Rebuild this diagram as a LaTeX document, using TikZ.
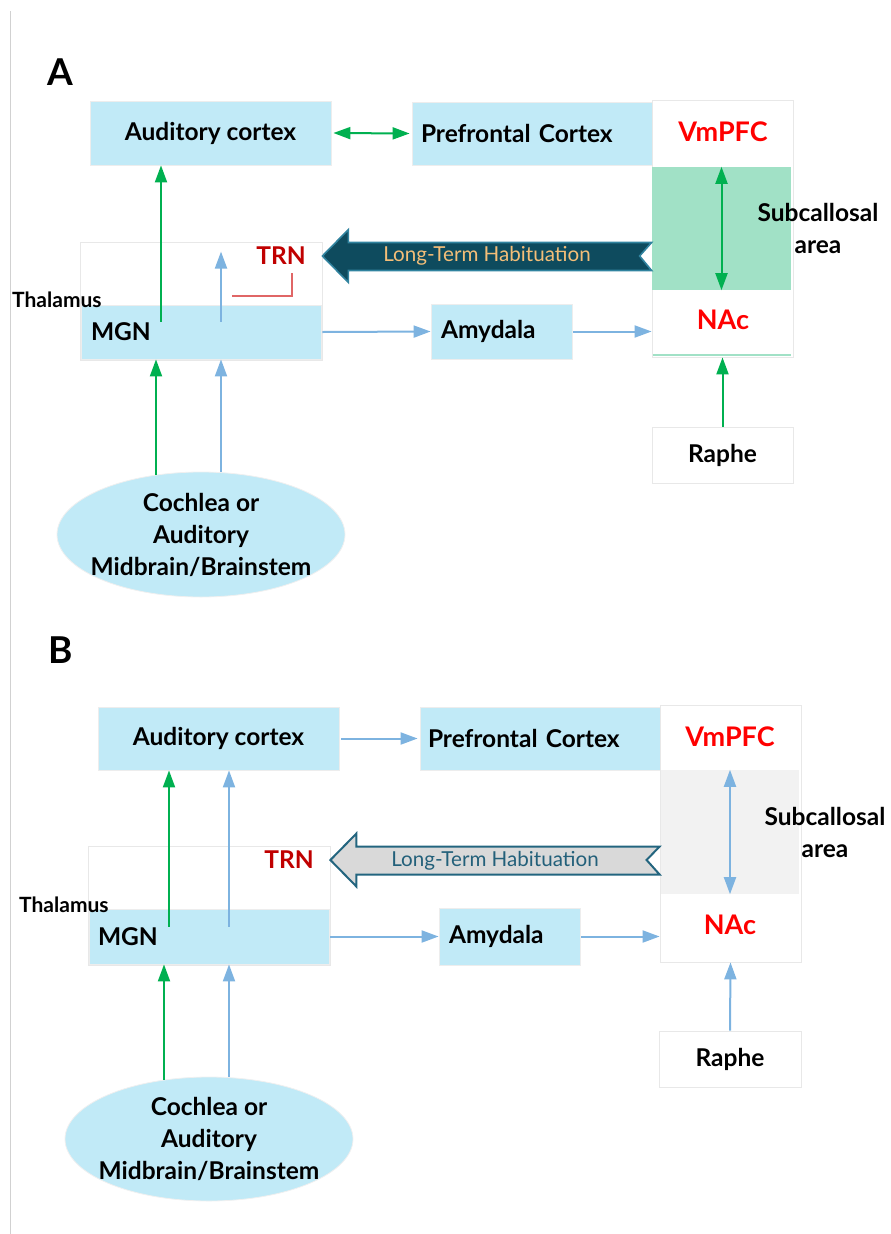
\documentclass[tikz,border=0pt]{standalone}
\usepackage{fontspec}
\setmainfont{Lato}
\usetikzlibrary{arrows.meta,positioning,calc,shapes.geometric}
\definecolor{boxblue}{HTML}{C1EAF7}
\definecolor{subgreen}{HTML}{A1E1C6}
\definecolor{subgray}{HTML}{F2F2F2}
\definecolor{arrgreen}{HTML}{00B050}
\definecolor{arrblue}{HTML}{7DB3E0}
\definecolor{vmred}{HTML}{FF0000}
\definecolor{trnred}{HTML}{C00000}
\definecolor{inhred}{HTML}{E06666}
\definecolor{habfill}{HTML}{0E4B5E}
\definecolor{habedge}{HTML}{31839F}
\definecolor{habtext}{HTML}{F4BE78}
\definecolor{hbgfill}{HTML}{D9D9D9}
\definecolor{hbgedge}{HTML}{23657F}
\definecolor{hbgtext}{HTML}{23607A}
\newcommand{\bfnt}{\fontsize{24.5}{32}\selectfont\bfseries}
\newcommand{\redfnt}{\fontsize{27}{32}\selectfont\bfseries}
\newcommand{\smfnt}{\fontsize{21}{24}\selectfont\bfseries}
\newcommand{\panfnt}{\fontsize{37}{40}\selectfont\bfseries}
\newcommand{\habfnt}{\fontsize{20.6}{24}\selectfont}
\tikzset{
  blubox/.style={rectangle,fill=boxblue,draw=black!7,line width=0.8pt,inner sep=0pt,font=\bfnt},
  wbox/.style={rectangle,fill=white,draw=black!9,line width=0.8pt,inner sep=0pt,font=\bfnt},
  lbl/.style={inner sep=0pt,font=\bfnt,align=center},
  redlbl/.style={lbl,font=\redfnt,text=vmred},
  trnlbl/.style={lbl,text=trnred},
  thlbl/.style={inner sep=0pt,font=\smfnt,anchor=west},
  panlbl/.style={inner sep=0pt,font=\panfnt},
  cochlea/.style={ellipse,fill=boxblue,draw=black!6,line width=0.8pt,inner sep=0pt},
  garr/.style={line width=2pt,draw=arrgreen},
  barr/.style={line width=2pt,draw=arrblue},
  inhline/.style={line width=2pt,draw=inhred},
  habdark/.style={fill=habfill,draw=habedge,line width=1.6pt},
  habgray/.style={fill=hbgfill,draw=hbgedge,line width=2pt},
  edgeline/.style={draw=black!18,line width=1pt}
}

\begin{document}
\begin{tikzpicture}[x=1pt,y=-1pt,>={Triangle[length=17pt,width=12pt]}]
  \useasboundingbox (0,0) rectangle (891,1234);
  \draw[edgeline] (10,11) -- (10,1234);

  % ---- panel A ----
  \node[panlbl] (labA) at (60,72) {A};
  \node[blubox,minimum width=241pt,minimum height=64pt] (acA) at (210.5,133) {Auditory cortex};
  \node[blubox,minimum width=240pt,minimum height=63pt,text width=222pt,align=left] (pfcA) at (532,133.5) {Prefrontal Cortex};
  \node[wbox,minimum width=141pt,minimum height=257pt] (colA) at (722.5,228.5) {};
  \node[rectangle,fill=subgreen,minimum width=139pt,minimum height=123pt] (subA) at (721.5,228.5) {};
  \draw[draw=subgreen,line width=2pt] ($(colA.south west)+(1,-2)$) -- ($(colA.south east)+(-2,-2)$);
  \node[redlbl] (vmA) at (723,132) {VmPFC};
  \node[redlbl] (nacA) at (723,320) {NAc};
  \node[lbl] (scA) at (818,228.5) {Subcallosal\\area};
  \node[wbox,minimum width=141pt,minimum height=56pt] (rapA) at (722.5,455) {Raphe};
  \node[blubox,minimum width=141pt,minimum height=55pt,text width=121pt,align=left] (amyA) at (501.5,331.5) {Amydala};
  \node[wbox,minimum width=242pt,minimum height=118pt] (thalA) at (201,301) {};
  \node[blubox,minimum width=240pt,minimum height=54pt,text width=220pt,align=left] (mgnA) at (201,332) {MGN};
  \node[trnlbl] (trnA) at (281,256) {TRN};
  \node[cochlea,minimum width=288pt,minimum height=125pt,
        label={[lbl]center:Cochlea or\\Auditory\\Midbrain/Brainstem}] (cochA) at (201,534.5) {};
  \node[thlbl] (thlA) at (12,300) {Thalamus};

  \draw[garr,<->] ([xshift=2pt]acA.east) -- ([xshift=-2pt]pfcA.west);
  \draw[garr,<->] (subA.north) -- (subA.south);
  \draw[garr,->] (rapA.north) -- (colA.south);
  \draw[barr,->] ([xshift=1pt]amyA.east) -- (amyA.east -| colA.west);
  \draw[barr,->] ([xshift=1pt]mgnA.east) -- (amyA.west);
  \coordinate (gupA) at ($(mgnA.north)+(-40,17)$);
  \draw[garr,->] (gupA) -- (gupA |- acA.south);
  \coordinate (bupA) at ($(mgnA.north)+(20,17)$);
  \draw[barr,->] (bupA) -- ++(0,-70);
  \coordinate (inhA) at ($(mgnA.north)+(31,-9)$);
  \draw[inhline] (inhA) -| ([xshift=11pt,yshift=-8pt]trnA.south);
  \draw[garr,->] ($(cochA.north)+(-45,3)$) -- ($(mgnA.south)+(-45,0)$);
  \draw[barr,->] ($(cochA.north)+(20,0)$) -- ($(mgnA.south)+(20,0)$);

  \path (thalA.east |- trnA.center) coordinate (hA1) (colA.west |- trnA.center) coordinate (hA2);
  \draw[habdark] (hA1) -- ($(hA1)+(26,-26.5)$) -- ($(hA1)+(26,-13.5)$) -- ($(hA2)+(0,-13.5)$)
    -- ($(hA2)+(-12,0)$) -- ($(hA2)+(0,14.5)$) -- ($(hA1)+(26,14.5)$) -- ($(hA1)+(26,26.5)$) -- cycle;
  \node[inner sep=0pt,font=\habfnt,text=habtext] (ltA) at (487,256) {Long-Term Habituation};

  % ---- panel B ----
  \node[panlbl] (labB) at (61,650) {B};
  \node[blubox,minimum width=241pt,minimum height=63pt] (acB) at (218.5,738.5) {Auditory cortex};
  \node[blubox,minimum width=240pt,minimum height=63pt,text width=224pt,align=left] (pfcB) at (540,738.5) {Prefrontal Cortex};
  \node[wbox,minimum width=141pt,minimum height=257pt] (colB) at (730.5,833.5) {};
  \node[rectangle,fill=subgray,minimum width=138pt,minimum height=124pt] (subB) at (730,832) {};
  \node[redlbl] (vmB) at (730,737) {VmPFC};
  \node[redlbl] (nacB) at (730,925) {NAc};
  \node[lbl] (scB) at (825,832.5) {Subcallosal\\area};
  \node[wbox,minimum width=142pt,minimum height=56pt] (rapB) at (730,1059) {Raphe};
  \node[blubox,minimum width=141pt,minimum height=57pt,text width=121pt,align=left] (amyB) at (509.5,936.5) {Amydala};
  \node[wbox,minimum width=242pt,minimum height=119pt] (thalB) at (209,905.5) {};
  \node[blubox,minimum width=240pt,minimum height=55pt,text width=222pt,align=left] (mgnB) at (209,936.5) {MGN};
  \node[trnlbl] (trnB) at (289,860) {TRN};
  \node[cochlea,minimum width=288pt,minimum height=124pt,
        label={[lbl]center:Cochlea or\\Auditory\\Midbrain/Brainstem}] (cochB) at (209,1139) {};
  \node[thlbl] (thlB) at (19,905) {Thalamus};

  \draw[barr,->] ([xshift=2pt]acB.east) -- ([xshift=-2pt]pfcB.west);
  \draw[barr,<->] (subB.north) -- (subB.south);
  \draw[barr,->] (rapB.north) -- (colB.south);
  \draw[barr,->] ([xshift=1pt]amyB.east) -- (amyB.east -| colB.west);
  \draw[barr,->] ([xshift=1pt]mgnB.east) -- (amyB.west);
  \coordinate (gupB) at ($(mgnB.north)+(-40,18)$);
  \draw[garr,->] (gupB) -- (gupB |- acB.south);
  \coordinate (bupB) at ($(mgnB.north)+(20,18)$);
  \draw[barr,->] (bupB) -- (bupB |- acB.south);
  \draw[garr,->] ($(cochB.north)+(-45,3)$) -- ($(mgnB.south)+(-45,0)$);
  \draw[barr,->] ($(cochB.north)+(20,0)$) -- ($(mgnB.south)+(20,0)$);

  \path (thalB.east |- trnB.center) coordinate (hB1) (colB.west |- trnB.center) coordinate (hB2);
  \draw[habgray] (hB1) -- ($(hB1)+(26,-26.5)$) -- ($(hB1)+(26,-13.5)$) -- ($(hB2)+(0,-13.5)$)
    -- ($(hB2)+(-13,0)$) -- ($(hB2)+(0,14.5)$) -- ($(hB1)+(26,14.5)$) -- ($(hB1)+(26,26.5)$) -- cycle;
  \node[inner sep=0pt,font=\habfnt,text=hbgtext] (ltB) at (495,861) {Long-Term Habituation};
\end{tikzpicture}
\end{document}
